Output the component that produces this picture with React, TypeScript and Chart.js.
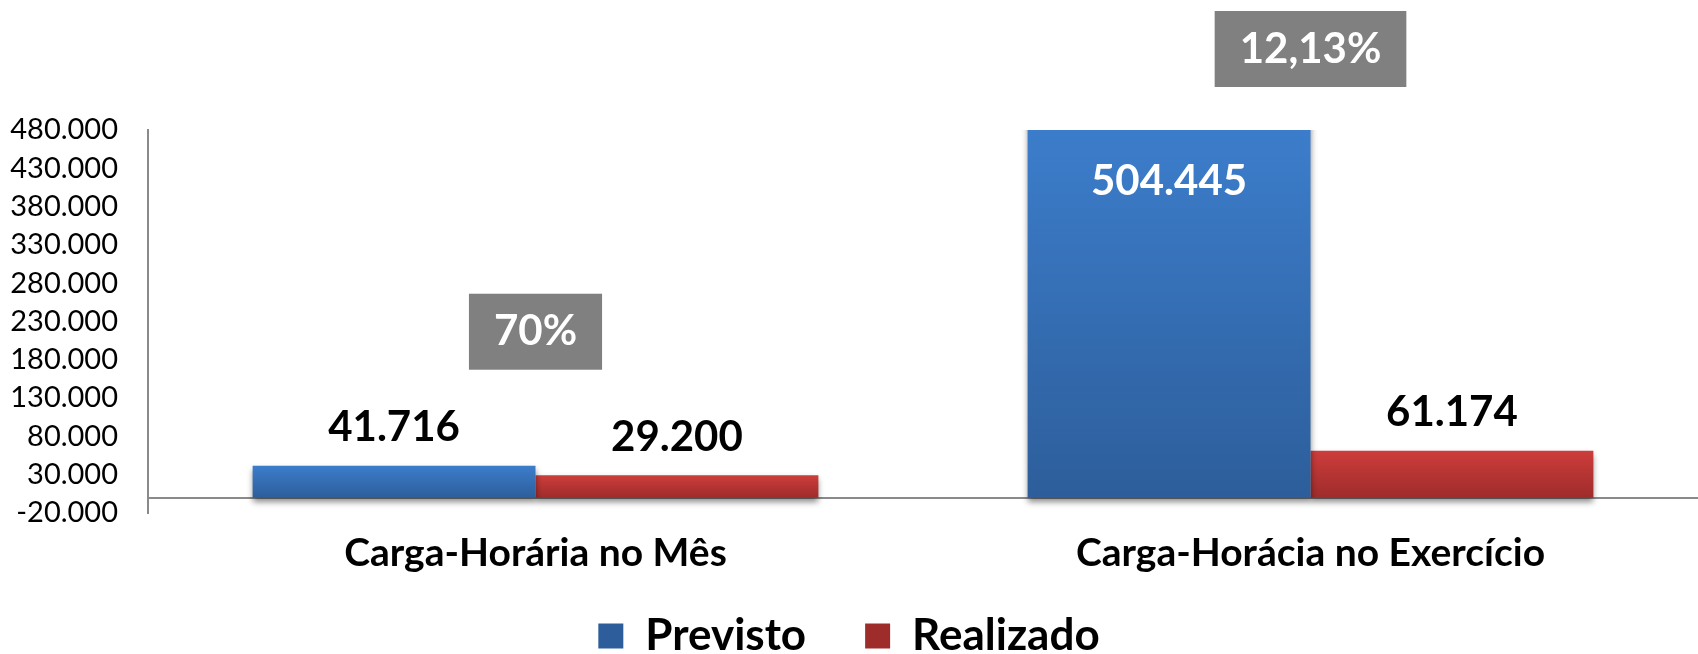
import React, { useEffect, useRef } from 'react';
import { Chart, registerables } from 'chart.js';

Chart.register(...registerables);

// ---- data ----
const categories = ['Carga-Horária no Mês', 'Carga-Horácia no Exercício'];
const seriesNames = ['Previsto', 'Realizado'];
const previsto = [41716, 504445];
const realizado = [29200, 61174];
const yTicks = [-20000, 30000, 80000, 130000, 180000, 230000, 280000, 330000, 380000, 430000, 480000];

// ---- style ----
const FONT = 'Lato';
const AXIS = '#8a8a8a';
const BLUE_TOP = '#3c7dcb';
const BLUE_BOT = '#2d5e9b';
const BLUE_MID = '#3570b6';
const RED_TOP = '#cd3d3b';
const RED_BOT = '#9e2c2b';
const RED_MID = '#bb3634';

const fmtThousands = (v: number) => {
  const s = Math.abs(Math.round(v)).toString().replace(/\B(?=(\d{3})+(?!\d))/g, '.');
  return (v < 0 ? '-' : '') + s;
};
const fmtPct = (p: number) => p.toFixed(2).replace(/\.?0+$/, '').replace('.', ',') + '%';

const gradFill = (top: string, bottom: string, mid: string) => (c: any) => {
  const chart = c.chart;
  const ys = chart.scales && chart.scales.y;
  const area = chart.chartArea;
  if (c.type !== 'data' || !ys || !area) return mid;
  const v = c.raw as number;
  const t = Math.max(ys.getPixelForValue(v), area.top);
  const b = ys.getPixelForValue(0);
  if (!isFinite(t) || !isFinite(b) || Math.abs(b - t) < 1) return mid;
  const g = chart.ctx.createLinearGradient(0, t, 0, b);
  g.addColorStop(0, top);
  g.addColorStop(1, bottom);
  return g;
};

const shadowPlugin = {
  id: 'barShadow',
  beforeDatasetsDraw(chart: any) {
    const ctx = chart.ctx;
    ctx.save();
    ctx.shadowColor = 'rgba(0,0,0,0.45)';
    ctx.shadowBlur = 6;
    ctx.shadowOffsetY = 4;
  },
  afterDatasetsDraw(chart: any) {
    chart.ctx.restore();
  },
};

const labelsPlugin = {
  id: 'valueLabels',
  afterDatasetsDraw(chart: any, _args: any, opts: any) {
    const { ctx, chartArea, scales } = chart;
    const ys = scales.y;
    const xs = scales.x;
    ctx.save();
    ctx.font = `bold ${opts.fontSize}px ${FONT}`;
    ctx.textAlign = 'center';
    ctx.textBaseline = 'middle';
    chart.data.datasets.forEach((ds: any, di: number) => {
      const meta = chart.getDatasetMeta(di);
      meta.data.forEach((el: any, i: number) => {
        const v = ds.data[i] as number;
        if (v > ys.max) {
          ctx.fillStyle = '#ffffff';
          ctx.fillText(fmtThousands(v), el.x, chartArea.top + opts.insideOffset);
        } else {
          ctx.fillStyle = '#000000';
          ctx.fillText(fmtThousands(v), el.x, el.y - opts.aboveOffset);
        }
      });
    });
    categories.forEach((_c, i) => {
      const text = fmtPct((realizado[i] / previsto[i]) * 100);
      const cx = xs.getPixelForValue(i);
      const topPx = Math.max(
        chartArea.top,
        Math.min(ys.getPixelForValue(previsto[i]), ys.getPixelForValue(realizado[i]))
      );
      const cy = topPx - opts.boxRise[i];
      const w = ctx.measureText(text).width + 2 * opts.boxPadX;
      const h = opts.boxHeight;
      ctx.fillStyle = '#808080';
      ctx.fillRect(cx - w / 2, cy - h / 2, w, h);
      ctx.fillStyle = '#ffffff';
      ctx.fillText(text, cx, cy);
    });
    ctx.restore();
  },
};

export default function App() {
  const ref = useRef<HTMLCanvasElement>(null);
  useEffect(() => {
    if (!ref.current) return;
    Chart.defaults.font.family = FONT;
    const chart = new Chart(ref.current, {
      type: 'bar',
      data: {
        labels: categories,
        datasets: [
          {
            label: seriesNames[0],
            data: previsto,
            backgroundColor: gradFill(BLUE_TOP, BLUE_BOT, BLUE_MID) as any,
            borderWidth: 0,
            categoryPercentage: 0.73,
            barPercentage: 1,
          },
          {
            label: seriesNames[1],
            data: realizado,
            backgroundColor: gradFill(RED_TOP, RED_BOT, RED_MID) as any,
            borderWidth: 0,
            categoryPercentage: 0.73,
            barPercentage: 1,
          },
        ],
      },
      options: {
        responsive: true,
        maintainAspectRatio: false,
        animation: false,
        events: [],
        layout: { padding: { top: 130, left: 0, right: 0, bottom: 0 } },
        scales: {
          x: {
            type: 'category',
            position: { y: 0 } as any,
            offset: true,
            grid: { display: false, drawTicks: false },
            border: { display: true, color: AXIS, width: 2 },
            ticks: {
              padding: 32,
              color: '#000',
              maxRotation: 0,
              autoSkip: false,
              font: { family: FONT, size: 39, weight: 'bold' },
            },
          },
          y: {
            min: -20000,
            max: 480000,
            grid: { display: false, drawTicks: false },
            border: { display: true, color: AXIS, width: 2 },
            afterBuildTicks: (s: any) => {
              s.ticks = yTicks.map((v) => ({ value: v }));
            },
            afterFit: (s: any) => {
              s.width = 148;
            },
            ticks: {
              padding: 30,
              color: '#000',
              font: { family: FONT, size: 29 },
              callback: (v: any) => fmtThousands(Number(v)),
            },
          },
        },
        plugins: {
          legend: {
            position: 'bottom',
            align: 'center',
            title: { display: true, text: ' ', padding: { top: 30, bottom: 0 }, font: { size: 10 } },
            labels: {
              boxWidth: 25,
              boxHeight: 25,
              padding: 59,
              color: '#000',
              font: { family: FONT, size: 44, weight: 'bold' },
            },
          },
          tooltip: { enabled: false },
          valueLabels: {
            fontSize: 42,
            aboveOffset: 38,
            insideOffset: 51,
            boxRise: [134, 81],
            boxPadX: 25,
            boxHeight: 76,
          },
        } as any,
      },
      plugins: [shadowPlugin, labelsPlugin],
    });
    return () => chart.destroy();
  }, []);

  return (
    <div style={{ position: 'fixed', left: 0, top: 0, width: 1698, height: 654, overflow: 'hidden', background: '#fff' }}>
      <div style={{ position: 'relative', width: 1698, height: 668 }}>
        <canvas ref={ref} />
      </div>
    </div>
  );
}
